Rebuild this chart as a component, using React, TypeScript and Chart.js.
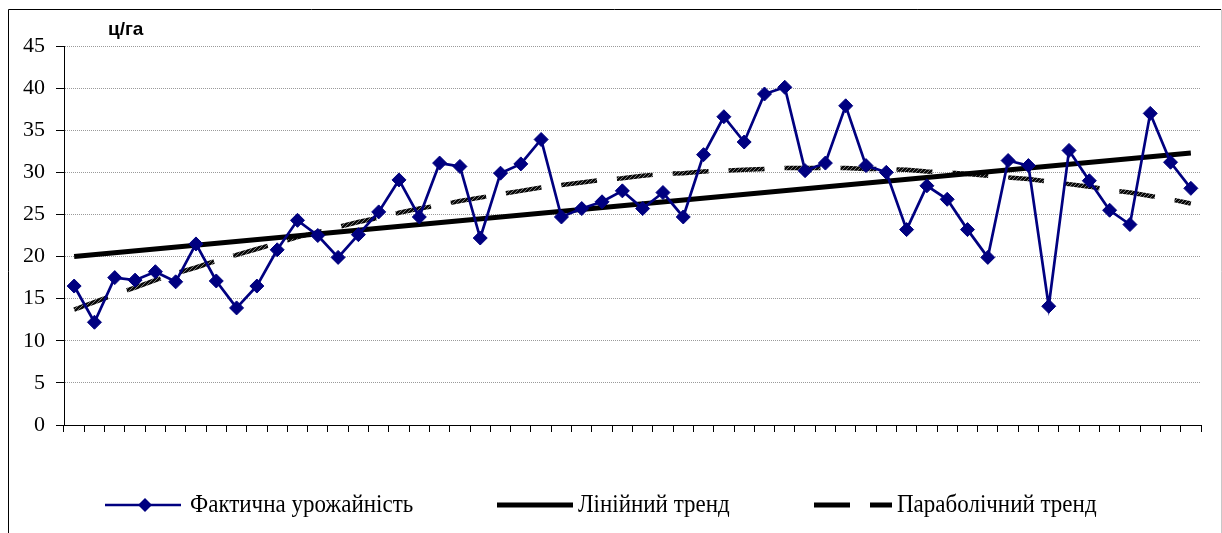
import React, { useEffect, useRef } from "react";
import { Chart, registerables } from "chart.js";

Chart.register(...registerables);

const categories: string[] = Array.from({ length: 56 }, (_, i) => String(i + 1));

const actualYield: number[] = [
  16.5, 12.2, 17.5, 17.2, 18.2, 17.0, 21.5, 17.1, 13.9, 16.5,
  20.8, 24.3, 22.5, 19.9, 22.6, 25.3, 29.1, 24.7, 31.1, 30.7,
  22.2, 29.9, 31.0, 33.9, 24.7, 25.7, 26.5, 27.8, 25.7, 27.6,
  24.7, 32.1, 36.6, 33.6, 39.3, 40.1, 30.2, 31.1, 37.9, 30.8,
  30.0, 23.2, 28.4, 26.8, 23.2, 19.9, 31.4, 30.8, 14.1, 32.6,
  29.0, 25.5, 23.8, 37.0, 31.2, 28.1,
];

const linearStart = 20.0;
const linearEnd = 32.3;

const parabolicTrend: number[] = [
  13.7, 14.6, 15.5, 16.3, 17.2, 18.0, 18.7, 19.5, 20.2, 20.9,
  21.6, 22.3, 22.9, 23.5, 24.1, 24.6, 25.2, 25.7, 26.1, 26.6,
  27.0, 27.4, 27.8, 28.2, 28.5, 28.8, 29.1, 29.3, 29.6, 29.8,
  29.9, 30.1, 30.2, 30.3, 30.4, 30.5, 30.5, 30.5, 30.5, 30.4,
  30.4, 30.3, 30.1, 30.0, 29.8, 29.6, 29.4, 29.2, 28.9, 28.6,
  28.3, 27.9, 27.6, 27.2, 26.8, 26.3,
];

const yTicks: number[] = [0, 5, 10, 15, 20, 25, 30, 35, 40, 45];

const unitLabel = "ц/га";
const seriesNames: string[] = ["Фактична урожайність", "Лінійний тренд", "Параболічний тренд"];

const linearTrend: (number | null)[] = categories.map((_, i) =>
  i === 0 ? linearStart : i === categories.length - 1 ? linearEnd : null
);

function makeHatch(): CanvasPattern | string {
  const c = document.createElement("canvas");
  c.width = 4;
  c.height = 4;
  const g = c.getContext("2d");
  if (!g) return "#111";
  g.fillStyle = "#0a0a0a";
  g.fillRect(0, 0, 4, 4);
  g.fillStyle = "#7a7a7a";
  for (let i = 0; i < 4; i++) g.fillRect(i, 3 - i, 1, 1);
  const p = g.createPattern(c, "repeat");
  return p || "#111";
}

export default function App() {
  const ref = useRef<HTMLCanvasElement | null>(null);

  useEffect(() => {
    if (!ref.current) return;
    const hatch = makeHatch();

    const decor = {
      id: "decor",
      beforeDraw(chart: any) {
        const ctx = chart.ctx as CanvasRenderingContext2D;
        ctx.save();
        ctx.fillStyle = "#fff";
        ctx.fillRect(0, 0, chart.width, chart.height);
        ctx.strokeStyle = "#000";
        ctx.lineWidth = 1;
        ctx.beginPath();
        ctx.moveTo(8.5, 533);
        ctx.lineTo(8.5, 9.5);
        ctx.lineTo(1221, 9.5);
        ctx.stroke();
        ctx.strokeStyle = "#c8c8c8";
        ctx.beginPath();
        ctx.moveTo(1221.5, 9.5);
        ctx.lineTo(1221.5, 533);
        ctx.stroke();
        ctx.restore();
      },
      afterDraw(chart: any) {
        const ctx = chart.ctx as CanvasRenderingContext2D;
        ctx.save();
        // unit label
        ctx.fillStyle = "#000";
        ctx.font = "bold 19px 'Liberation Sans', Arial, sans-serif";
        ctx.textBaseline = "alphabetic";
        ctx.textAlign = "left";
        ctx.fillText(unitLabel, 108, 35);

        // legend
        const ly = 505;
        const textY = 512;
        const drawText = (s: string, x: number) => {
          ctx.save();
          ctx.translate(x, textY);
          ctx.scale(1, 1.12);
          ctx.font = "23px 'Liberation Serif', 'Times New Roman', serif";
          ctx.fillStyle = "#000";
          ctx.fillText(s, 0, 0);
          ctx.restore();
        };
        // item 1
        ctx.strokeStyle = "#000080";
        ctx.lineWidth = 2.5;
        ctx.beginPath();
        ctx.moveTo(105, ly);
        ctx.lineTo(181, ly);
        ctx.stroke();
        ctx.fillStyle = "#000080";
        ctx.beginPath();
        ctx.moveTo(145, ly - 7);
        ctx.lineTo(152, ly);
        ctx.lineTo(145, ly + 7);
        ctx.lineTo(138, ly);
        ctx.closePath();
        ctx.fill();
        drawText(seriesNames[0], 190);
        // item 2
        ctx.strokeStyle = "#000";
        ctx.lineWidth = 5;
        ctx.beginPath();
        ctx.moveTo(497, ly);
        ctx.lineTo(573, ly);
        ctx.stroke();
        drawText(seriesNames[1], 578);
        // item 3
        ctx.lineWidth = 5;
        ctx.beginPath();
        ctx.moveTo(814, ly);
        ctx.lineTo(850, ly);
        ctx.moveTo(870, ly);
        ctx.lineTo(892, ly);
        ctx.stroke();
        drawText(seriesNames[2], 897);
        ctx.restore();
      },
    };

    const chart = new Chart(ref.current, {
      type: "line",
      data: {
        labels: categories,
        datasets: [
          {
            label: seriesNames[0],
            data: actualYield,
            borderColor: "#000080",
            backgroundColor: "#000080",
            borderWidth: 2.7,
            pointStyle: "rectRot",
            pointRadius: 7,
            pointBackgroundColor: "#000080",
            pointBorderColor: "#000080",
            pointBorderWidth: 1,
            tension: 0,
            order: 0,
          },
          {
            label: seriesNames[1],
            data: linearTrend,
            borderColor: "#000",
            borderWidth: 5,
            pointRadius: 0,
            spanGaps: true,
            tension: 0,
            order: 1,
          },
          {
            label: seriesNames[2],
            data: parabolicTrend,
            borderColor: hatch as any,
            borderWidth: 4.5,
            borderDash: [36, 20],
            pointRadius: 0,
            tension: 0,
            order: 2,
          },
        ],
      },
      options: {
        responsive: false,
        animation: false,
        events: [],
        layout: { padding: { left: 0, right: 21, top: 46, bottom: 98 } },
        plugins: {
          legend: { display: false },
          tooltip: { enabled: false },
          title: { display: false },
        },
        scales: {
          x: {
            type: "category",
            offset: true,
            grid: {
              display: true,
              offset: true,
              drawOnChartArea: false,
              drawTicks: true,
              tickLength: 7,
              tickColor: "#000",
              tickWidth: 1,
            },
            border: { display: true, color: "#000", width: 1 },
            ticks: {
              autoSkip: false,
              maxRotation: 0,
              callback: () => "",
            },
            afterFit: (scale: any) => {
              scale.height = 10;
            },
          },
          y: {
            min: 0,
            max: 45,
            afterBuildTicks: (scale: any) => {
              scale.ticks = yTicks.map((v) => ({ value: v }));
            },
            grid: {
              color: "#9a9a9a",
              lineWidth: 1,
              drawTicks: true,
              tickLength: 8,
              tickColor: "#000",
            },
            border: { display: true, color: "#000", width: 1, dash: [1, 1] },
            ticks: {
              padding: 11,
              color: "#000",
              font: { family: "'Liberation Serif', 'Times New Roman', serif", size: 22 },
            },
            afterFit: (scale: any) => {
              scale.width = 64;
            },
          },
        },
      },
      plugins: [decor],
    });

    return () => chart.destroy();
  }, []);

  return (
    <div style={{ position: "absolute", left: 0, top: 0, width: 1222, height: 533 }}>
      <canvas ref={ref} width={1222} height={533} style={{ display: "block" }} />
    </div>
  );
}
